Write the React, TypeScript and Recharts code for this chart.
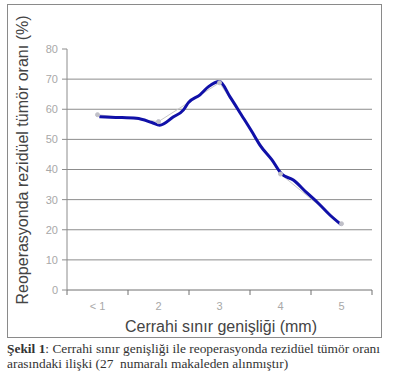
import React from "react"
import { LineChart, Line, XAxis, YAxis, CartesianGrid, Label } from "recharts"

// category labels on the x axis
const categories = ["< 1", "2", "3", "4", "5"]
const yTicks = [0, 10, 20, 30, 40, 50, 60, 70, 80]

// original series (grey markers under the drawn curve)
const pointX = [1, 2, 3, 4, 5]
const pointY = [58.2, 55.9, 68.8, 38.5, 22]

// hand-drawn blue curve
const curveX = [1.03, 1.3, 1.64, 1.89, 2.02, 2.24, 2.41, 2.49, 2.68, 2.82, 3.0, 3.17, 3.36, 3.53, 3.66, 3.86, 4.02, 4.21, 4.43, 4.62, 4.81, 5.0]
const curveY = [57.5, 57.3, 57.0, 55.6, 54.7, 57.4, 59.8, 62.2, 64.8, 67.5, 69.2, 64.2, 58.1, 52.6, 48.2, 43.2, 38.5, 36.5, 32.3, 28.8, 24.9, 21.6]

const pointData = pointX.map((x, i) => ({ x, y: pointY[i] }))
const curveData = curveX.map((x, i) => ({ x, y: curveY[i] }))

const xBoundaries = [0.5, 1.5, 2.5, 3.5, 4.5, 5.5]

const sans = "'Liberation Sans', Arial, sans-serif"

// tick marks sit on category boundaries, labels in the middle of each band
const XTick = (props: any) => {
  const { x, y, index } = props
  if (index >= categories.length) return null
  return (
    <text x={x + 30.5} y={y} dy="0.71em" textAnchor="middle" fill="#a8a8a8" fontSize={11} fontFamily={sans}>
      {categories[index]}
    </text>
  )
}

export default function App() {
  return (
    <div style={{ position: "absolute", left: 0, top: 0, width: 397, height: 382, background: "#fff" }}>
      <div style={{ position: "absolute", left: 7, top: 4, width: 373, height: 332, border: "1px solid #8a8a8a" }} />
      <div style={{ position: "absolute", left: 0, top: 0 }}>
        <LineChart width={397} height={382} margin={{ top: 49, right: 25, left: 37, bottom: 62 }}>
          <CartesianGrid vertical={false} horizontalValues={[10, 20, 30, 40, 50, 60, 70]} stroke="#8c8c8c" />
          <XAxis
            dataKey="x"
            type="number"
            domain={[0.5, 5.5]}
            ticks={xBoundaries}
            interval={0}
            height={30}
            tickSize={5}
            tickMargin={7}
            stroke="#707070"
            tick={<XTick />}
          >
            <Label
              content={() => (
                <text x={221} y={332} textAnchor="middle" fill="#444" fontSize={16} fontFamily={sans}>
                  Cerrahi sınır genişliği (mm)
                </text>
              )}
            />
          </XAxis>
          <YAxis
            type="number"
            domain={[0, 80]}
            ticks={yTicks}
            interval={0}
            width={30}
            tickSize={5}
            tickMargin={4}
            stroke="#8c8c8c"
            tick={{ fill: "#a8a8a8", fontSize: 11, fontFamily: sans }}
          >
            <Label
              content={() => (
                <text
                  transform="translate(22,160) rotate(-90)"
                  textAnchor="middle"
                  dominantBaseline="central"
                  fill="#444"
                  fontSize={16}
                  fontFamily={sans}
                >
                  Reoperasyonda rezidüel tümör oranı (%)
                </text>
              )}
            />
          </YAxis>
          <Line
            data={pointData}
            dataKey="y"
            type="linear"
            stroke="#c8c8c8"
            strokeWidth={1}
            dot={{ r: 2, fill: "#c0c0c8", stroke: "#c0c0c8" }}
            isAnimationActive={false}
          />
          <Line
            data={curveData}
            dataKey="y"
            type="monotone"
            stroke="#1010a8"
            strokeWidth={3}
            dot={false}
            isAnimationActive={false}
          />
        </LineChart>
      </div>
      <div
        style={{
          position: "absolute",
          left: 7,
          top: 341,
          width: 390,
          whiteSpace: "nowrap",
          fontFamily: "'Liberation Serif', 'Times New Roman', serif",
          fontSize: 13.4,
          lineHeight: "15px",
          color: "#333",
        }}
      >
        <b>Şekil 1</b>: Cerrahi sınır genişliği ile reoperasyonda rezidüel tümör oranı
        <br />
        arasındaki ilişki (27&nbsp; numaralı makaleden alınmıştır)
      </div>
    </div>
  )
}
